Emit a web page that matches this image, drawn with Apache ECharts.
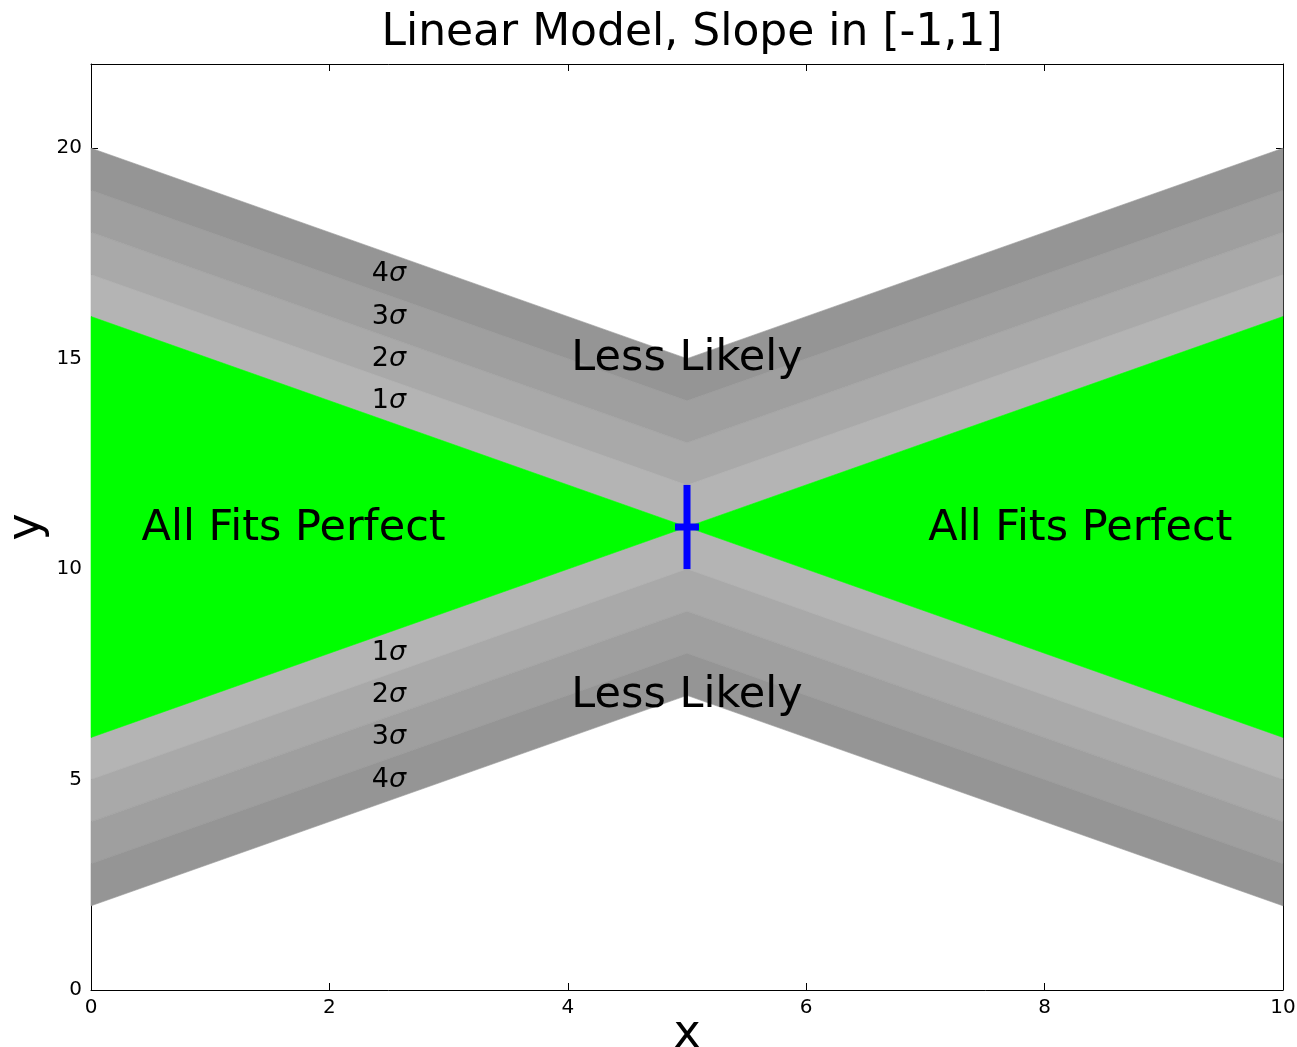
<!DOCTYPE html>
<html>
<head>
<meta charset="utf-8">
<script src="https://cdn.jsdelivr.net/npm/echarts@6/dist/echarts.min.js"></script>
<style>
  html, body { margin: 0; padding: 0; background: #ffffff; }
  #chart { width: 1297px; height: 1047px; }
</style>
</head>
<body>
<div id="chart"></div>
<script>
// Band edges of the linear model through the measured point, slope in [-1, 1]
const edgeX = [0, 5, 10];
const upperEdges = [[16, 11, 16], [17, 12, 17], [18, 13, 18], [19, 14, 19], [20, 15, 20]];
const lowerEdges = [[6, 11, 6], [5, 10, 5], [4, 9, 4], [3, 8, 3], [2, 7, 2]];

// Sigma labels
const sigmaLevels = ['1', '2', '3', '4'];
const sigmaLabelX = [2.5, 2.5, 2.5, 2.5];
const upperSigmaY = [14, 15, 16, 17];
const lowerSigmaY = [8, 7, 6, 5];

// Region labels
const regionText = ['All Fits Perfect', 'All Fits Perfect', 'Less Likely', 'Less Likely'];
const regionX = [1.7, 8.3, 5, 5];
const regionY = [11, 11, 15, 7];

// Measurement with error bar
const pointX = [5];
const pointY = [11];
const pointErr = [1];

// Axis ticks
const xTicks = [0, 2, 4, 6, 8, 10];
const yTicks = [0, 5, 10, 15, 20];

const bandColors = ['#b4b4b4', '#a9a9a9', '#9f9f9f', '#959595'];
const fitColor = '#00ff00';
const FONT = '"DejaVu Sans", sans-serif';

// Build polygons from the edge arrays
const polygons = [];
for (let k = 0; k < 4; k++) {
  const up = edgeX.map((x, i) => [x, upperEdges[k][i]])
    .concat(edgeX.map((x, i) => [x, upperEdges[k + 1][i]]).reverse());
  const lo = edgeX.map((x, i) => [x, lowerEdges[k][i]])
    .concat(edgeX.map((x, i) => [x, lowerEdges[k + 1][i]]).reverse());
  polygons.push({ pts: up, color: bandColors[k] });
  polygons.push({ pts: lo, color: bandColors[k] });
}
polygons.push({
  pts: [[edgeX[0], lowerEdges[0][0]], [edgeX[0], upperEdges[0][0]], [edgeX[1], upperEdges[0][1]]],
  color: fitColor
});
polygons.push({
  pts: [[edgeX[2], lowerEdges[0][2]], [edgeX[2], upperEdges[0][2]], [edgeX[1], upperEdges[0][1]]],
  color: fitColor
});

// Text items
const texts = [];
sigmaLevels.forEach((s, i) => {
  texts.push({ x: sigmaLabelX[i], y: upperSigmaY[i], sigma: s });
  texts.push({ x: sigmaLabelX[i], y: lowerSigmaY[i], sigma: s });
});
regionText.forEach((t, i) => texts.push({ x: regionX[i], y: regionY[i], text: t }));

const chart = echarts.init(document.getElementById('chart'), null, { renderer: 'canvas' });

const tickStyle = { show: true, inside: true, length: 7, lineStyle: { color: '#000', width: 1 } };
const lineStyle = { show: true, onZero: false, lineStyle: { color: '#000', width: 1 } };

chart.setOption({
  animation: false,
  backgroundColor: '#ffffff',
  title: {
    text: 'Linear Model, Slope in [-1,1]',
    left: 687,
    textAlign: 'center',
    top: 7,
    textStyle: { fontFamily: FONT, fontSize: 44, fontWeight: 'normal', color: '#000' }
  },
  grid: { left: 91, right: 14, top: 64, bottom: 57, containLabel: false, outerBoundsMode: 'none' },
  xAxis: [
    {
      type: 'value', min: 0, max: 10, interval: 2, position: 'bottom',
      axisLine: lineStyle, axisTick: tickStyle, splitLine: { show: false },
      axisLabel: {
        fontFamily: FONT, fontSize: 20, color: '#000', margin: 8,
        formatter: v => (xTicks.indexOf(v) >= 0 ? String(v) : '')
      },
      name: 'x', nameLocation: 'middle', nameGap: 22, nameMoveOverlap: false,
      nameTextStyle: { fontFamily: FONT, fontSize: 46, color: '#000' }
    },
    {
      type: 'value', min: 0, max: 10, interval: 2, position: 'top',
      axisLine: lineStyle, axisTick: tickStyle, axisLabel: { show: false }, splitLine: { show: false }
    }
  ],
  yAxis: [
    {
      type: 'value', min: 0, max: 22, interval: 5, position: 'left',
      axisLine: lineStyle, axisTick: tickStyle, splitLine: { show: false },
      axisLabel: {
        fontFamily: FONT, fontSize: 20, color: '#000', margin: 9,
        formatter: v => (yTicks.indexOf(v) >= 0 ? String(v) : '')
      },
      name: 'y', nameLocation: 'middle', nameGap: 41, nameRotate: 90, nameMoveOverlap: false,
      nameTextStyle: { fontFamily: FONT, fontSize: 46, color: '#000' }
    },
    {
      type: 'value', min: 0, max: 22, interval: 5, position: 'right',
      axisLine: lineStyle, axisTick: tickStyle, axisLabel: { show: false }, splitLine: { show: false }
    }
  ],
  series: [
    {
      type: 'custom',
      name: 'regions',
      xAxisIndex: 0, yAxisIndex: 0,
      silent: true,
      z: 1,
      data: polygons.map(p => p.pts[0]),
      renderItem: (params, api) => {
        const p = polygons[params.dataIndex];
        return {
          type: 'polygon',
          shape: { points: p.pts.map(pt => api.coord(pt)) },
          style: { fill: p.color, stroke: p.color, lineWidth: 0.6 }
        };
      }
    },
    {
      type: 'custom',
      name: 'labels',
      xAxisIndex: 0, yAxisIndex: 0,
      silent: true,
      z: 3,
      data: texts.map(t => [t.x, t.y]),
      renderItem: (params, api) => {
        const t = texts[params.dataIndex];
        const c = api.coord([t.x, t.y]);
        if (t.sigma) {
          return {
            type: 'text', x: c[0], y: c[1],
            style: {
              text: '{n|' + t.sigma + '}{s|σ}',
              align: 'center', verticalAlign: 'middle',
              rich: {
                n: { fontFamily: FONT, fontSize: 27, fill: '#000', color: '#000' },
                s: { fontFamily: FONT, fontSize: 27, fontStyle: 'italic', fill: '#000', color: '#000' }
              }
            }
          };
        }
        // "All Fits Perfect" has no descenders, so nudge it down to sit on the centre line
        const dy = t.text === 'Less Likely' ? 0 : 2;
        return {
          type: 'text', x: c[0], y: c[1] + dy,
          style: {
            text: t.text, align: 'center', verticalAlign: 'middle',
            fontFamily: FONT, fontSize: 43, fill: '#000'
          }
        };
      }
    },
    {
      type: 'custom',
      name: 'measurement',
      xAxisIndex: 0, yAxisIndex: 0,
      silent: true,
      z: 4,
      data: pointX.map((x, i) => [x, pointY[i], pointErr[i]]),
      renderItem: (params, api) => {
        const x = api.value(0), y = api.value(1), e = api.value(2);
        const top = api.coord([x, y + e]);
        const bot = api.coord([x, y - e]);
        const mid = api.coord([x, y]);
        const blue = { stroke: '#0000ff', lineWidth: 7 };
        return {
          type: 'group',
          children: [
            { type: 'line', shape: { x1: top[0], y1: top[1], x2: bot[0], y2: bot[1] }, style: blue },
            { type: 'line', shape: { x1: mid[0] - 12, y1: mid[1], x2: mid[0] + 12, y2: mid[1] }, style: blue }
          ]
        };
      }
    }
  ]
});
</script>
</body>
</html>
